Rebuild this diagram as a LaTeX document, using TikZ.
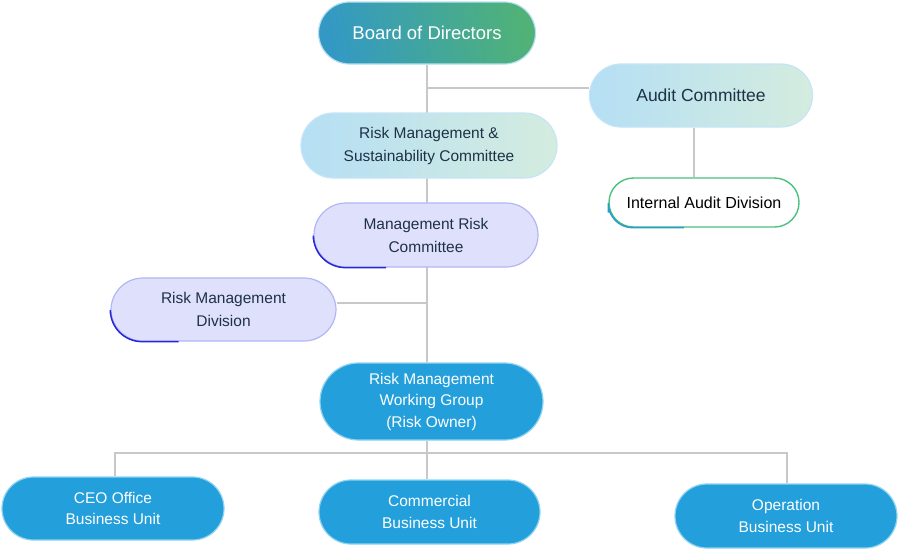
\documentclass[tikz,border=0pt]{standalone}
\usepackage{fontspec}
\setmainfont{Liberation Sans}
\usetikzlibrary{backgrounds}
\definecolor{txtdark}{HTML}{1E3246}
\definecolor{linegray}{HTML}{C8C8C8}
\definecolor{bdteal}{HTML}{3399C4}
\definecolor{bdgreen}{HTML}{50B277}
\definecolor{ltblue}{HTML}{B5DFF4}
\definecolor{ltgreen}{HTML}{D4ECDF}
\definecolor{lav}{HTML}{DFE0FB}
\definecolor{lavedge}{HTML}{B4B6F4}
\definecolor{deepblue}{HTML}{2626DC}
\definecolor{unitblue}{HTML}{239FDB}
\definecolor{unitedge}{HTML}{8FD3F2}
\definecolor{iadgreen}{HTML}{4CC07E}
\definecolor{iadblue}{HTML}{2A9CD0}
\tikzset{
  x=1pt, y=-1pt,
  pill/.style={rectangle, rounded corners=#1, align=center, inner sep=0pt},
  conn/.style={draw=linegray, line width=1.5pt},
  accent/.style={line width=1.5pt, rounded corners=#1},
  boardbox/.style={pill=31pt, minimum width=217pt, minimum height=62pt,
     left color=bdteal, right color=bdgreen, shading angle=100,
     draw=ltblue, line width=1.2pt, text=white, font=\fontsize{18.5}{22}\selectfont},
  lightbox/.style={pill=#1, left color=ltblue, right color=ltgreen,
     draw=ltblue!80!white, line width=1.2pt, text=txtdark},
  lavbox/.style={pill=32pt, fill=lav, draw=lavedge, line width=1.2pt, text=txtdark,
     minimum width=224pt, minimum height=64pt, font=\fontsize{15.5}{23}\selectfont},
  unitbox/.style={pill=#1, fill=unitblue, draw=unitedge, line width=1.2pt, text=white,
     font=\fontsize{15.5}{21.5}\selectfont},
}
\begin{document}
\begin{tikzpicture}
\useasboundingbox (0,0) rectangle (900,555);
% nodes
\node[boardbox] (board) at (427,33) {Board of Directors};
\node[lightbox=31.5pt, minimum width=223pt, minimum height=63pt,
      font=\fontsize{17.5}{21}\selectfont] (ac) at (701,95.5) {Audit Committee};
\node[lightbox=32.5pt, minimum width=256pt, minimum height=65pt,
      font=\fontsize{15.5}{23}\selectfont] (rmsc) at (429,145.5)
      {Risk Management \&\\Sustainability Committee};
\node[pill=24.5pt, minimum width=190pt, minimum height=49pt, fill=white,
      draw=iadgreen, line width=1.4pt, text=black,
      font=\fontsize{16}{19}\selectfont] (iad) at (704,202.5) {Internal Audit Division};
\node[lavbox] (mrc) at (426,235) {Management Risk\\Committee};
\node[lavbox, minimum width=225pt, minimum height=63pt] (rmd) at (223.5,309.5)
      {Risk Management\\Division};
\node[unitbox=38.5pt, minimum width=223pt, minimum height=77pt] (rmwg) at (431.5,401.5)
      {Risk Management\\Working Group\\(Risk Owner)};
\node[unitbox=31.5pt, minimum width=222pt, minimum height=63pt] (ceo) at (113,508.5)
      {CEO Office\\Business Unit};
\node[unitbox=32pt, minimum width=221pt, minimum height=64pt] (com) at (429.5,512)
      {Commercial\\Business Unit};
\node[unitbox=32pt, minimum width=222pt, minimum height=64pt] (opr) at (786,516)
      {Operation\\Business Unit};
% accent edges
\draw[accent=32pt, deepblue] ([yshift=-4pt]mrc.west) |- ([xshift=-40pt]mrc.south);
\draw[accent=31.5pt, deepblue] ([yshift=-4pt]rmd.west) |- ([xshift=-45pt]rmd.south);
\draw[accent=24.5pt, iadblue] ([yshift=-10pt]iad.west) |- ([xshift=-20pt]iad.south);
% connectors
\begin{pgfonlayer}{background}
\coordinate (spine) at (427,0);
\coordinate (bus) at (427,453);
\draw[conn] (board.south) -- (rmwg.north -| spine);
\draw[conn] (spine |- 0,88) -- (ac.west |- 0,88);
\draw[conn] (ac.south -| 694,0) -- (iad.north -| 694,0);
\draw[conn] (rmd.east |- 0,303) -- (spine |- 0,303);
\draw[conn] (rmwg.south -| spine) -- (bus);
\draw[conn] (ceo.north -| 115,0) -- (bus -| 115,0) -- (bus -| 787,0) -- (opr.north -| 787,0);
\draw[conn] (bus) -- (com.north -| spine);
\end{pgfonlayer}
\end{tikzpicture}
\end{document}
